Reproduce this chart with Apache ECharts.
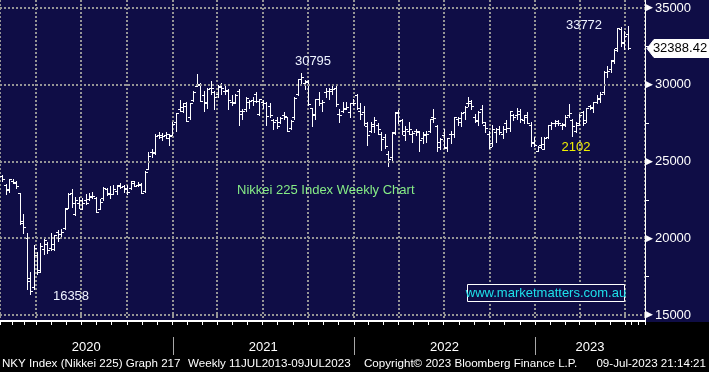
<!DOCTYPE html>
<html><head><meta charset="utf-8">
<script src="https://cdn.jsdelivr.net/npm/echarts@6/dist/echarts.min.js"></script>
<style>
html,body{margin:0;padding:0;background:#000;}
#c{width:709px;height:372px;background:linear-gradient(to bottom,#0f0d46 0,#0f0d46 322px,#000 322px,#000 372px);}
</style>
</head><body><div id="c"></div>
<script>
// Weekly bars (week ending dates)
const weeks = [
 '2020-01-17','2020-01-24','2020-01-31','2020-02-07','2020-02-14','2020-02-21','2020-02-28','2020-03-06','2020-03-13','2020-03-19','2020-03-27','2020-04-03','2020-04-10','2020-04-17','2020-04-24','2020-05-01','2020-05-08','2020-05-15','2020-05-22','2020-05-29','2020-06-05','2020-06-12','2020-06-19','2020-06-26','2020-07-03','2020-07-10','2020-07-17','2020-07-22','2020-07-31','2020-08-07','2020-08-14','2020-08-21','2020-08-28','2020-09-04','2020-09-11','2020-09-18','2020-09-25','2020-10-02','2020-10-09','2020-10-16','2020-10-23','2020-10-30','2020-11-06','2020-11-13','2020-11-20','2020-11-27','2020-12-04','2020-12-11','2020-12-18','2020-12-25','2020-12-30',
 '2021-01-08','2021-01-15','2021-01-22','2021-01-29','2021-02-05','2021-02-12','2021-02-19','2021-02-26','2021-03-05','2021-03-12','2021-03-19','2021-03-26','2021-04-02','2021-04-09','2021-04-16','2021-04-23','2021-04-30','2021-05-07','2021-05-14','2021-05-21','2021-05-28','2021-06-04','2021-06-11','2021-06-18','2021-06-25','2021-07-02','2021-07-09','2021-07-16','2021-07-23','2021-07-30','2021-08-06','2021-08-13','2021-08-20','2021-08-27','2021-09-03','2021-09-10','2021-09-17','2021-09-24','2021-10-01','2021-10-08','2021-10-15','2021-10-22','2021-10-29','2021-11-05','2021-11-12','2021-11-19','2021-11-26','2021-12-03','2021-12-10','2021-12-17','2021-12-24','2021-12-30',
 '2022-01-07','2022-01-14','2022-01-21','2022-01-28','2022-02-04','2022-02-11','2022-02-18','2022-02-25','2022-03-04','2022-03-11','2022-03-18','2022-03-25','2022-04-01','2022-04-08','2022-04-15','2022-04-22','2022-04-29','2022-05-06','2022-05-13','2022-05-20','2022-05-27','2022-06-03','2022-06-10','2022-06-17','2022-06-24','2022-07-01','2022-07-08','2022-07-15','2022-07-22','2022-07-29','2022-08-05','2022-08-12','2022-08-19','2022-08-26','2022-09-02','2022-09-09','2022-09-16','2022-09-23','2022-09-30','2022-10-07','2022-10-14','2022-10-21','2022-10-28','2022-11-04','2022-11-11','2022-11-18','2022-11-25','2022-12-02','2022-12-09','2022-12-16','2022-12-23','2022-12-30',
 '2023-01-06','2023-01-13','2023-01-20','2023-01-27','2023-02-03','2023-02-10','2023-02-17','2023-02-24','2023-03-03','2023-03-10','2023-03-17','2023-03-24','2023-03-31','2023-04-07','2023-04-14','2023-04-21','2023-04-28','2023-05-05','2023-05-12','2023-05-19','2023-05-26','2023-06-02','2023-06-09','2023-06-16','2023-06-23','2023-06-30','2023-07-07'
];
const opens = [
 23900,24083,23500,23150,23760,23620,22950,21020,20000,17200,16830,18900,17900,19300,19600,19350,19300,20390,20300,20650,22000,22970,21600,22300,21900,22460,22580,22750,22640,21930,22600,23200,22900,22900,23100,23500,23400,23300,23300,23700,23500,23500,23100,24500,25600,25600,26700,26600,26700,26500,26700,
 27575,28400,28300,28800,27900,29000,29900,30000,29300,28800,29800,29500,29400,29900,29600,29600,28900,28900,29600,28300,28400,28900,29000,29400,28100,28900,28800,28600,27700,27700,27600,28000,27900,27200,27900,29400,30400,30100,30200,28500,28100,29100,28800,29500,29600,29700,29800,28100,28300,28500,28200,28800,
 29300,28300,28200,27300,27000,27300,27400,26800,26600,25500,25300,26900,28200,27700,26700,27000,26800,27000,26900,26500,26800,27000,27900,27300,26300,26700,25900,26800,26800,27800,27600,28200,28800,28800,27900,27700,28400,27400,26800,26200,26900,27100,26800,27500,27200,28000,28000,28100,27700,28000,27400,26300,
 25700,26100,25800,26600,27400,27500,27500,27400,27400,28000,27700,27000,27500,28200,27700,28600,28500,28900,29100,29500,30800,31000,31600,32400,33600,32700,33300
];
const highs = [
 24116,24100,23522,23873,23870,23730,22950,21600,20350,17785,19564,19100,19700,19922,19740,20365,20200,20534,20600,21970,22916,23185,22690,22700,22600,22910,22950,23000,22700,22570,23340,23300,23430,23500,23500,23600,23500,23500,23700,23725,23650,23600,24400,25600,25800,26800,26900,26850,26900,26800,27600,
 28139,28979,28822,28900,28800,29562,30714,30100,29600,29800,30216,29600,30000,30100,29900,29700,29300,29400,29700,28400,29200,29000,29200,29500,29100,29000,28900,28800,27800,27900,27900,28200,27900,27700,29200,30400,30796,30300,30300,28500,29100,29500,29000,29800,29800,29900,30000,28400,28900,28900,28800,29100,
 29388,28800,28600,27600,27600,27900,27500,26900,26800,25700,26900,28200,28338,27800,27300,27600,27000,27100,27000,26900,27000,27800,28389,27400,26500,27100,26500,27000,27900,27900,28200,28600,29222,29000,28100,28300,28700,27600,27000,27400,27200,27300,27300,27700,28300,28100,28500,28400,28000,28200,27600,26600,
 26000,26600,26600,27400,27600,27700,27700,27500,28000,28734,27800,27600,28100,28300,28500,28700,28900,29300,29500,30900,31200,31600,32300,33706,33773,33500,33800
];
const lows = [
 23850,23730,22892,22990,23575,23300,20916,20320,16690,16358,16690,17646,17800,18960,19040,19250,19250,19840,20080,20600,21960,22040,21530,22000,21900,22200,22460,22600,21710,21900,22520,22800,22600,22850,22900,23300,23000,22900,23200,23400,23400,22950,23000,24500,25300,25500,26500,26400,26500,26100,26700,
 27002,28300,28200,27629,27750,28950,29900,28966,28300,28500,29400,28400,29200,29400,29400,28400,28700,28800,27400,27800,28300,28500,28700,28900,28000,28500,27400,27900,27100,27200,27500,27800,26954,27100,27800,29300,30100,29700,28700,27300,27800,28700,28300,29200,29100,29400,28600,27600,28200,28400,27900,28700,
 28400,27800,27400,26044,26900,26900,26800,25775,25900,24682,25100,26800,27500,26800,26400,26800,26300,26700,25700,26200,26300,26900,27600,25700,25800,25900,25700,26200,26600,27400,27300,27800,28600,28400,27600,27400,27500,26900,25900,26000,26300,26800,26500,26900,27000,27700,27800,27600,27500,27500,26000,26000,
 25662,25900,25800,26500,27100,27300,27400,27100,27300,27900,26633,26900,27400,27400,27600,28400,28200,28800,28900,29400,30500,30800,31400,32200,32500,32300,32300
];
const closes = [
 24041,23827,23205,23827,23688,23387,21142,20750,17431,16553,19389,17820,19498,19897,19262,19619,20179,20037,20388,21877,22863,22305,22478,22512,22306,22290,22696,22751,21710,22329,23289,22920,22882,23205,23406,23360,23204,23029,23619,23410,23516,22977,24325,25385,25527,26644,26751,26652,26763,26656,27444,
 28139,28519,28631,27663,28779,29520,30018,28966,28864,29717,29792,29176,29854,29768,29683,29020,28812,29357,28084,28317,29149,28941,28948,28964,29066,28783,27940,28003,27548,27284,27820,27977,27013,27641,29128,30381,30500,30249,28771,28049,29069,28805,28893,29612,29610,29746,28752,28030,28438,28546,28783,28792,
 28479,28124,27523,26717,27440,27697,27122,26477,25985,25163,26827,28149,27666,26985,27093,27105,26847,27003,26427,26739,26781,27761,27824,25963,26491,25935,26517,26788,27914,27801,28175,28546,28930,28641,27650,28214,27567,27153,25937,27116,27090,26890,27105,27199,28263,27899,28283,27777,27901,27527,26235,26094,
 25973,26119,26553,27382,27509,27670,27513,27453,27927,28143,27333,27385,28041,27518,28493,28564,28856,29157,29388,30808,30916,31524,32265,33706,32781,33189,32388
];
const yTickValues = [15000, 20000, 25000, 30000, 35000];
const yMinorTicks = [17500, 22500, 27500, 32500];
const yearLabels = ['2020', '2021', '2022', '2023'];
const lastPrice = 32388.42;
const notes = [
  {text: '30795', x: 313, y: 61, color: '#eef3ff'},
  {text: '33772', x: 584, y: 25, color: '#eef3ff'},
  {text: '16358', x: 71, y: 296, color: '#eef3ff'},
  {text: '2102', x: 576, y: 147, color: '#f0f000'}
];

const DAY = 86400000;
function ts(s) { const p = s.split('-').map(Number); return new Date(p[0], p[1] - 1, p[2]).getTime(); }
const barData = weeks.map((d, i) => [ts(d), opens[i], highs[i], lows[i], closes[i]]);

const chart = echarts.init(document.getElementById('c'), null, {renderer: 'canvas'});
const FONT = "'Liberation Sans', Arial, sans-serif";
const xMin = new Date(2020, 0, 19, 12).getTime();
const xMax = new Date(2023, 7, 10, 10).getTime();

function renderBar(params, api) {
  const t = api.value(0);
  const ph = api.coord([t, api.value(2)]);
  const x = Math.round(ph[0]) + 0.5;
  const yh = Math.round(ph[1]);
  const yl = Math.round(api.coord([t, api.value(3)])[1]) + 1;
  const yo = Math.round(api.coord([t, api.value(1)])[1]) + 0.5;
  const yc = Math.round(api.coord([t, api.value(4)])[1]) + 0.5;
  const st = {stroke: '#ffffff', lineWidth: 1};
  return {type: 'group', children: [
    {type: 'line', shape: {x1: x, y1: yh, x2: x, y2: yl}, style: st},
    {type: 'line', shape: {x1: x - 2.5, y1: yo, x2: x, y2: yo}, style: st},
    {type: 'line', shape: {x1: x, y1: yc, x2: x + 2.5, y2: yc}, style: st}
  ]};
}

chart.setOption({
  animation: false,
  grid: {left: 0, right: 64, top: 0, bottom: 51},
  xAxis: {
    type: 'time', min: xMin, max: xMax,
    minInterval: 90 * DAY, maxInterval: 92 * DAY,
    axisLine: {show: true, onZero: false, lineStyle: {color: '#ffffff', width: 2}},
    axisTick: {show: true, length: 4, lineStyle: {color: '#ffffff'}},
    minorTick: {show: true, splitNumber: 3, length: 4, lineStyle: {color: '#ffffff'}},
    axisLabel: {show: false},
    splitLine: {show: true, lineStyle: {color: '#959595', type: [2, 2], width: 2}}
  },
  yAxis: {
    type: 'value', position: 'right', min: 14607, max: 35521,
    axisLine: {show: true, lineStyle: {color: '#ffffff', width: 1}},
    axisTick: {show: true, customValues: yMinorTicks, length: 4, lineStyle: {color: '#ffffff'}},
    axisLabel: {
      show: true, customValues: yTickValues, margin: 1,
      formatter: v => '{t|▶}{v|' + v + '}',
      rich: {
        t: {fontFamily: 'DejaVu Sans', fontSize: 9, color: '#ffffff'},
        v: {fontFamily: FONT, fontSize: 13, color: '#ffffff', padding: [0, 0, 0, 2]}
      }
    },
    splitLine: {show: false}
  },
  series: [
    {
      type: 'line', data: [], z: 1, silent: true,
      markLine: {
        silent: true, symbol: 'none', animation: false,
        label: {show: false},
        lineStyle: {color: '#959595', type: [2, 2], width: 2},
        data: yTickValues.map(v => ({yAxis: v}))
      }
    },
    {
      type: 'custom', z: 3, clip: true, silent: true,
      renderItem: renderBar,
      encode: {x: 0, y: [1, 2, 3, 4]},
      data: barData
    }
  ]
});

// decorations placed through the axes
const graphics = [];
const px = t => chart.convertToPixel({xAxisIndex: 0}, t);
const py = v => chart.convertToPixel({yAxisIndex: 0}, v);
const plotRight = px(xMax);
const bounds = [0];
for (let i = 1; i < yearLabels.length; i++) bounds.push(px(new Date(Number(yearLabels[i]), 0, 1).getTime()));
bounds.push(plotRight);
yearLabels.forEach((y, i) => {
  graphics.push({type: 'text', x: (bounds[i] + bounds[i + 1]) / 2, y: 347,
    style: {text: y, fill: '#ffffff', font: '13px ' + FONT, textAlign: 'center', textVerticalAlign: 'middle'}});
  if (i > 0) {
    const xx = Math.round(bounds[i]) + 0.5;
    graphics.push({type: 'line', shape: {x1: xx, y1: 337, x2: xx, y2: 355}, style: {stroke: '#a8a8a8', lineWidth: 1}});
  }
});
// footer
const footer = [
  {text: 'NKY Index (Nikkei 225) Graph 217', x: 2, align: 'left'},
  {text: 'Weekly 11JUL2013-09JUL2023', x: 188, align: 'left'},
  {text: 'Copyright\u00a9 2023 Bloomberg Finance L.P.', x: 364, align: 'left'},
  {text: '09-Jul-2023 21:14:21', x: 706, align: 'right'}
];
footer.forEach(f => graphics.push({type: 'text', x: f.x, y: 364,
  style: {text: f.text, fill: '#ffffff', font: '11.6px ' + FONT, textAlign: f.align, textVerticalAlign: 'middle'}}));
// annotations
notes.forEach(n => graphics.push({type: 'text', x: n.x, y: n.y, z: 10,
  style: {text: n.text, fill: n.color, font: '13px ' + FONT, textAlign: 'center', textVerticalAlign: 'middle'}}));
graphics.push({type: 'text', x: 237, y: 190, z: 10,
  style: {text: 'Nikkei 225 Index Weekly Chart', fill: '#86ec86', font: '13px ' + FONT, textAlign: 'left', textVerticalAlign: 'middle'}});
// watermark box
graphics.push({type: 'rect', z: 10, shape: {x: 467.5, y: 284.5, width: 157, height: 17}, style: {fill: '#0f0d46', stroke: '#ffffff', lineWidth: 1}});
graphics.push({type: 'text', z: 11, x: 546, y: 293.5,
  style: {text: 'www.marketmatters.com.au', fill: '#1ee0ea', font: '13px ' + FONT, textAlign: 'center', textVerticalAlign: 'middle'}});
// last price tag
const ly = Math.round(py(lastPrice)) + 0.5;
const ax = Math.round(plotRight) + 2;
graphics.push({type: 'polygon', z: 10, shape: {points: [[ax, ly], [ax + 7, ly - 9], [709, ly - 9], [709, ly + 9], [ax + 7, ly + 9]]},
  style: {fill: '#ffffff', stroke: '#ffffff'}});
graphics.push({type: 'text', z: 11, x: 680, y: ly,
  style: {text: lastPrice.toFixed(2), fill: '#000000', font: '13px ' + FONT, textAlign: 'center', textVerticalAlign: 'middle'}});
chart.setOption({graphic: graphics});
</script>
</body></html>
